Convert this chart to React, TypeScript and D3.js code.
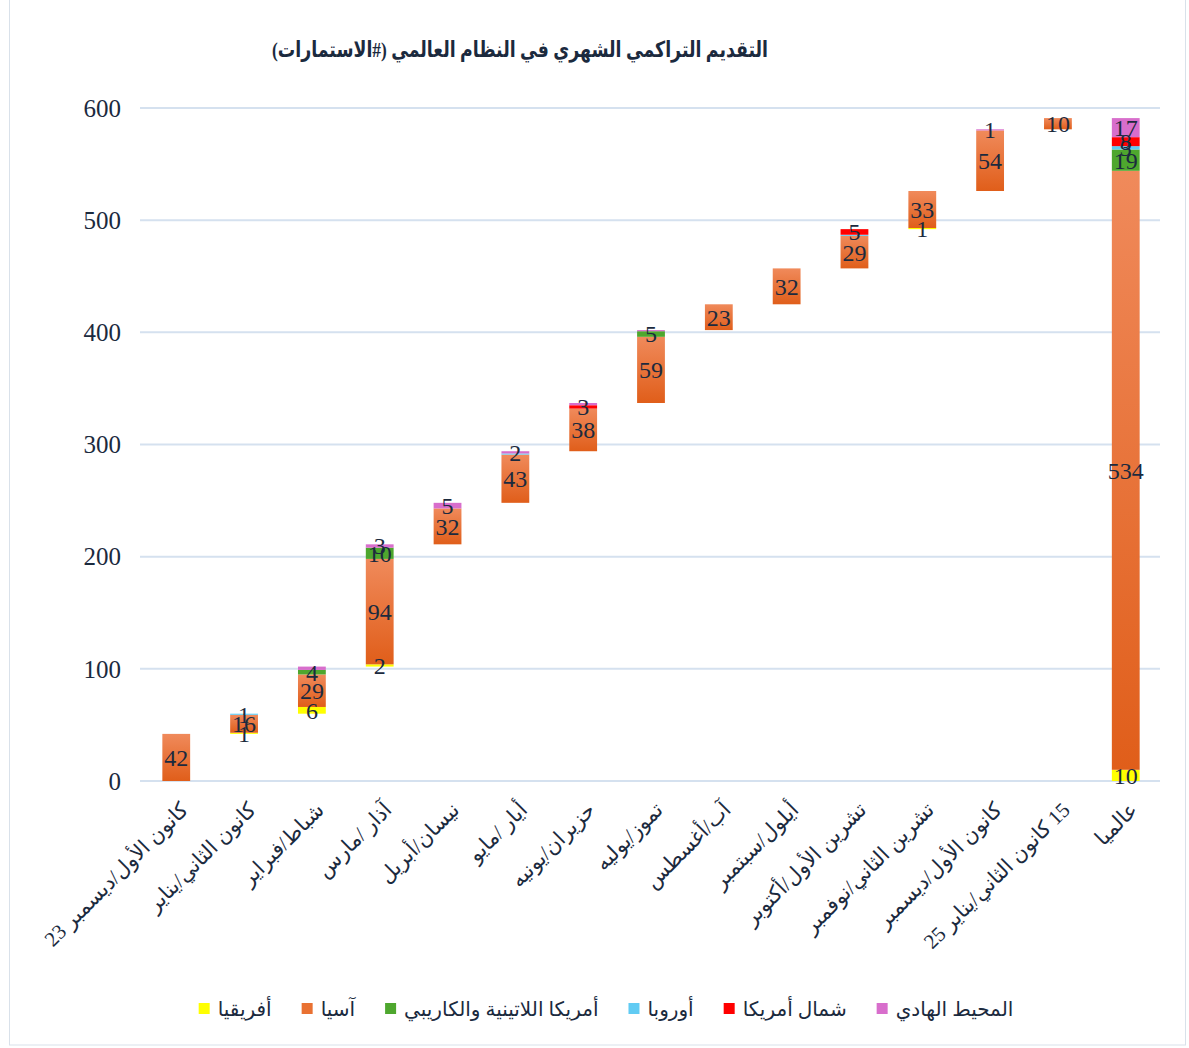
import React, { useEffect, useRef } from 'react';
import * as d3 from 'd3';

const categories = [
  'كانون الأول/ديسمبر 23',
  'كانون الثاني/يناير',
  'شباط/فبراير',
  'آذار /مارس',
  'نيسان/أبريل',
  'أيار /مايو',
  'حزيران/يونيه',
  'تموز/يوليه',
  'آب/أغسطس',
  'أيلول/سبتمبر',
  'تشرين الأول/أكتوبر',
  'تشرين الثاني/نوفمبر',
  'كانون الأول/ديسمبر',
  '15 كانون الثاني/يناير 25',
  'عالميا',
];

// stacked bottom -> top
const africa = [0, 1, 6, 2, 0, 0, 0, 0, 0, 0, 0, 1, 0, 0, 10];
const asia = [42, 16, 29, 94, 32, 43, 38, 59, 23, 32, 29, 33, 54, 10, 534];
const latinAmerica = [0, 0, 4, 10, 0, 0, 0, 5, 0, 0, 0, 0, 0, 0, 19];
const europe = [0, 1, 0, 0, 0, 1, 0, 0, 0, 0, 1, 0, 0, 0, 3];
const northAmerica = [0, 0, 0, 0, 0, 0, 3, 0, 0, 0, 5, 0, 0, 0, 8];
const pacific = [0, 0, 3, 3, 5, 2, 2, 1, 0, 0, 0, 0, 1, 0, 17];

const seriesNames = ['أفريقيا', 'آسيا', 'أمريكا اللاتينية والكاريبي', 'أوروبا', 'شمال أمريكا', 'المحيط الهادي'];
const seriesColors = ['#FFFF00', '#E97132', '#4EA72E', '#61CBF3', '#FF0000', '#D86ECC'];
const yTicks = [0, 100, 200, 300, 400, 500, 600];

const title = 'التقديم التراكمي الشهري في النظام العالمي (#الاستمارات)';

const W = 1189;
const H = 1048;
const textColor = '#1b2a3e';
const numFont = '"Liberation Serif", "Times New Roman", serif';
const arFont = '"Liberation Serif", "DejaVu Sans", serif';

const App: React.FC = () => {
  const svgRef = useRef<SVGSVGElement>(null);

  useEffect(() => {
    if (!svgRef.current) return;
    const svg = d3.select(svgRef.current);
    svg.selectAll('*').remove();

    const series = [africa, asia, latinAmerica, europe, northAmerica, pacific];
    const n = categories.length;
    const totals = categories.map((_, i) => d3.sum(series, s => s[i]));
    // waterfall: each month starts where the previous ended, the global bar starts at 0
    const bases = categories.map((_, i) => (i === n - 1 ? 0 : d3.sum(totals.slice(0, i))));

    const x = d3.scaleBand<string>().domain(categories).range([142, 1160]).paddingInner(0.59).paddingOuter(0.3);
    const y = d3.scaleLinear().domain([0, 600]).range([781, 108]);

    const defs = svg.append('defs');
    const grad = defs.append('linearGradient').attr('id', 'asiaGrad').attr('x1', 0).attr('y1', 0).attr('x2', 0).attr('y2', 1);
    grad.append('stop').attr('offset', '0%').attr('stop-color', '#F08A5B');
    grad.append('stop').attr('offset', '100%').attr('stop-color', '#E05E1A');

    svg.append('rect').attr('width', W).attr('height', H).attr('fill', '#fff');
    svg.append('rect')
      .attr('x', 9.5).attr('y', -1).attr('width', 1176).attr('height', H - 2)
      .attr('fill', 'none').attr('stroke', '#d9e1ea').attr('stroke-width', 1);

    // title
    svg.append('text')
      .attr('x', 520).attr('y', 57)
      .attr('text-anchor', 'middle')
      .attr('direction', 'rtl')
      .attr('textLength', 496)
      .attr('lengthAdjust', 'spacingAndGlyphs')
      .style('font-family', arFont)
      .style('font-size', '22px')
      .style('font-weight', 'bold')
      .style('fill', textColor)
      .text(title);

    // grid + y ticks
    svg.append('g').selectAll('line').data(yTicks).enter().append('line')
      .attr('x1', 140).attr('x2', 1160)
      .attr('y1', d => y(d)).attr('y2', d => y(d))
      .attr('stroke', '#d5e1ef').attr('stroke-width', 2);

    svg.append('g').selectAll('text').data(yTicks).enter().append('text')
      .attr('x', 121).attr('y', d => y(d)).attr('dy', '0.35em')
      .attr('text-anchor', 'end')
      .style('font-family', numFont).style('font-size', '25px').style('fill', textColor)
      .text(d => d);

    // bars
    const barG = svg.append('g');
    const labelG = svg.append('g');
    categories.forEach((c, i) => {
      let acc = bases[i];
      const bx = x(c)!;
      const bw = x.bandwidth();
      const segs: { v: number; cy: number }[] = [];
      series.forEach((s, k) => {
        const v = s[i];
        if (!v) return;
        const y0 = y(acc);
        const y1 = y(acc + v);
        barG.append('rect')
          .attr('x', bx).attr('y', y1).attr('width', bw).attr('height', y0 - y1)
          .attr('fill', k === 1 ? 'url(#asiaGrad)' : seriesColors[k]);
        segs.push({ v, cy: (y0 + y1) / 2 });
        acc += v;
      });
      // larger values get their label first; labels colliding with one already placed are dropped
      const placed: number[] = [];
      segs.slice().sort((a, b) => b.v - a.v).forEach(sg => {
        if (placed.some(p => Math.abs(p - sg.cy) < 5)) return;
        placed.push(sg.cy);
        labelG.append('text')
          .attr('x', bx + bw / 2).attr('y', sg.cy).attr('dy', '0.35em')
          .attr('text-anchor', 'middle')
          .style('font-family', numFont).style('font-size', '24px').style('fill', textColor)
          .text(sg.v);
      });
    });

    // x labels
    svg.append('g').selectAll('text').data(categories).enter().append('text')
      .attr('transform', d => `translate(${x(d)! + x.bandwidth() / 2 + 8},${806}) rotate(-45)`)
      .attr('direction', 'rtl')
      .attr('text-anchor', 'start')
      .attr('dy', '0.35em')
      .style('font-family', arFont).style('font-size', '21px').style('fill', textColor)
      .text(d => d);

    // legend
    const legend = svg.append('g');
    const items = seriesNames.map((name, k) => {
      const g = legend.append('g');
      g.append('rect').attr('width', 11).attr('height', 11).attr('y', -6).attr('fill', seriesColors[k]);
      const t = g.append('text')
        .attr('x', 19).attr('dy', '0.35em')
        .style('font-family', arFont).style('font-size', '20px').style('fill', textColor)
        .text(name);
      const tw = (t.node() as SVGTextElement).getComputedTextLength();
      return { g, w: 19 + tw };
    });
    const gap = 30;
    const totalW = d3.sum(items, d => d.w) + gap * (items.length - 1);
    let lx = 606 - totalW / 2;
    items.forEach(it => {
      it.g.attr('transform', `translate(${lx},${1009})`);
      lx += it.w + gap;
    });
  }, []);

  return (
    <svg
      ref={svgRef}
      width={W}
      height={H}
      style={{ position: 'absolute', left: 0, top: 0, background: '#fff' }}
    />
  );
};

export default App;
